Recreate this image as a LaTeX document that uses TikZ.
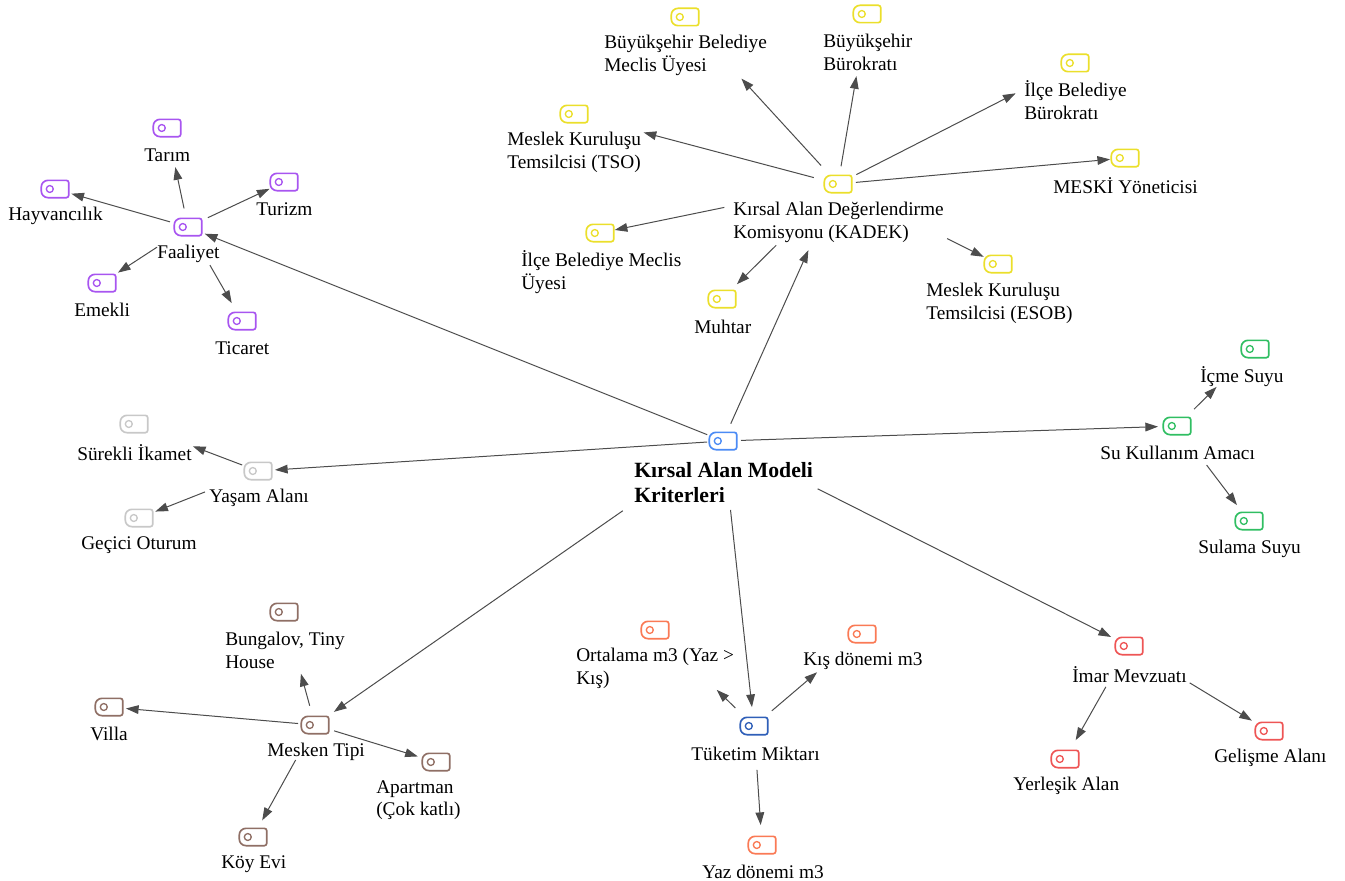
\documentclass[tikz,border=0pt]{standalone}
\usepackage{fontspec}
\setmainfont{Liberation Serif}
\usepackage{tikz}
\usetikzlibrary{positioning, arrows.meta}
\definecolor{hubBlue}{HTML}{4B8BF5}
\definecolor{deepBlue}{HTML}{2F5FB8}
\definecolor{tagYellow}{HTML}{EBDF2B}
\definecolor{tagPurple}{HTML}{A855F0}
\definecolor{tagGray}{HTML}{C8C8C8}
\definecolor{tagBrown}{HTML}{8F6F65}
\definecolor{tagOrange}{HTML}{FA7A55}
\definecolor{tagRed}{HTML}{EE5555}
\definecolor{tagGreen}{HTML}{30BE62}

\begin{document}
\begin{tikzpicture}
[x=0.75pt, y=-0.75pt,
tagicon/.style={rectangle, minimum width=20.2pt, minimum height=12.6pt, inner sep=0pt,
append after command={\pgfextra{
\draw[draw=#1, line width=1.25pt, rounded corners=1.8pt] (\tikzlastnode.north) -- (\tikzlastnode.north east) -- (\tikzlastnode.south east) [rounded corners=5pt] -- (\tikzlastnode.south west) -- (\tikzlastnode.north west) -- cycle;
\draw[draw=#1, line width=1pt] ([xshift=-3.9pt]\tikzlastnode.center) circle (2.6pt);
}}},
lbl/.style={anchor=west, align=left, inner sep=0pt, yshift=-1pt, font=\fontsize{14.5}{16.9}\selectfont},
hublbl/.style={lbl, font=\fontsize{16.3}{19}\selectfont\bfseries},
link/.style={draw=black!70, line width=0.75pt, -{Triangle[length=9.5pt,width=6.5pt]}},
gap/.style 2 args={shorten <=#1*0.75pt, shorten >=#2*0.75pt},
]
    \useasboundingbox (0,0) rectangle (1345,881);

    % centre
    \node (kriter) [tagicon=hubBlue] at (723,441) {};
    \node (kriterText) [hublbl] at (634,481) {Kırsal Alan Modeli\\Kriterleri};

    % KADEK
    \node (kadek) [tagicon=tagYellow] at (838,184) {};
    \node (kadekText) [lbl] at (733,221) {Kırsal Alan Değerlendirme\\Komisyonu (KADEK)};
    \node (bbMeclis) [tagicon=tagYellow] at (685,17) {};
    \node (bbMeclisText) [lbl] at (604,54) {Büyükşehir Belediye\\Meclis Üyesi};
    \node (bbBurokrat) [tagicon=tagYellow] at (867,14) {};
    \node (bbBurokratText) [lbl] at (823,51) {Büyükşehir\\Bürokratı};
    \node (ilceBurokrat) [tagicon=tagYellow] at (1075,63) {};
    \node (ilceBurokratText) [lbl] at (1024,99) {İlçe Belediye\\Bürokratı};
    \node (meski) [tagicon=tagYellow] at (1125,158) {};
    \node (meskiText) [lbl] at (1053,184) {MESKİ Yöneticisi};
    \node (esob) [tagicon=tagYellow] at (998,264) {};
    \node (esobText) [lbl] at (926,302) {Meslek Kuruluşu\\Temsilcisi (ESOB)};
    \node (muhtar) [tagicon=tagYellow] at (722,299) {};
    \node (muhtarText) [lbl] at (694,326) {Muhtar};
    \node (ilceMeclis) [tagicon=tagYellow] at (600,233) {};
    \node (ilceMeclisText) [lbl] at (521,271) {İlçe Belediye Meclis\\Üyesi};
    \node (tso) [tagicon=tagYellow] at (574,114) {};
    \node (tsoText) [lbl] at (507,151) {Meslek Kuruluşu\\Temsilcisi (TSO)};

    % Faaliyet
    \node (faaliyet) [tagicon=tagPurple] at (188,227) {};
    \node (faaliyetText) [lbl] at (157,253) {Faaliyet};
    \node (tarim) [tagicon=tagPurple] at (167,128) {};
    \node (tarimText) [lbl] at (144,154) {Tarım};
    \node (hayvan) [tagicon=tagPurple] at (55,189) {};
    \node (hayvanText) [lbl] at (8,215) {Hayvancılık};
    \node (turizm) [tagicon=tagPurple] at (284,182) {};
    \node (turizmText) [lbl] at (256,208) {Turizm};
    \node (emekli) [tagicon=tagPurple] at (102,283) {};
    \node (emekliText) [lbl] at (74,309) {Emekli};
    \node (ticaret) [tagicon=tagPurple] at (242,321) {};
    \node (ticaretText) [lbl] at (215,347) {Ticaret};

    % Yasam Alani
    \node (yasam) [tagicon=tagGray] at (258,471) {};
    \node (yasamText) [lbl] at (209,497) {Yaşam Alanı};
    \node (surekli) [tagicon=tagGray] at (134,424) {};
    \node (surekliText) [lbl] at (77,451) {Sürekli İkamet};
    \node (gecici) [tagicon=tagGray] at (139,518) {};
    \node (geciciText) [lbl] at (81,544) {Geçici Oturum};

    % Mesken Tipi
    \node (mesken) [tagicon=tagBrown] at (315,725) {};
    \node (meskenText) [lbl] at (267,751) {Mesken Tipi};
    \node (bungalov) [tagicon=tagBrown] at (284,612) {};
    \node (bungalovText) [lbl] at (225,649) {Bungalov, Tiny\\House};
    \node (villa) [tagicon=tagBrown] at (109,707) {};
    \node (villaText) [lbl] at (90,733) {Villa};
    \node (apartman) [tagicon=tagBrown] at (436,762) {};
    \node (apartmanText) [lbl] at (376,799) {Apartman\\(Çok katlı)};
    \node (koy) [tagicon=tagBrown] at (253,837) {};
    \node (koyText) [lbl] at (221,863) {Köy Evi};

    % Tuketim Miktari
    \node (tuketim) [tagicon=deepBlue] at (754,726) {};
    \node (tuketimText) [lbl] at (691,753) {Tüketim Miktarı};
    \node (ortalama) [tagicon=tagOrange] at (655,630) {};
    \node (ortalamaText) [lbl] at (576,667) {Ortalama m3 (Yaz >\\Kış)};
    \node (kis) [tagicon=tagOrange] at (862,634) {};
    \node (kisText) [lbl] at (803,660) {Kış dönemi m3};
    \node (yaz) [tagicon=tagOrange] at (762,845) {};
    \node (yazText) [lbl] at (702,871) {Yaz dönemi m3};

    % Imar Mevzuati
    \node (imar) [tagicon=tagRed] at (1129,646) {};
    \node (imarText) [lbl] at (1072,673) {İmar Mevzuatı};
    \node (yerlesik) [tagicon=tagRed] at (1065,759) {};
    \node (yerlesikText) [lbl] at (1013,785) {Yerleşik Alan};
    \node (gelisme) [tagicon=tagRed] at (1269,731) {};
    \node (gelismeText) [lbl] at (1214,757) {Gelişme Alanı};

    % Su Kullanim Amaci
    \node (su) [tagicon=tagGreen] at (1177,426) {};
    \node (suText) [lbl] at (1100,452) {Su Kullanım Amacı};
    \node (icme) [tagicon=tagGreen] at (1255,349) {};
    \node (icmeText) [lbl] at (1200,375) {İçme Suyu};
    \node (sulama) [tagicon=tagGreen] at (1249,521) {};
    \node (sulamaText) [lbl] at (1198,548) {Sulama Suyu};

    \draw[link, gap={17}{18}] (kriter.center) -- (faaliyet.center);
    \draw[link, gap={19}{72.5}] (kriter.center) -- (kadek.center);
    \draw[link, gap={18}{19}] (kriter.center) -- (su.center);
    \draw[link, gap={16}{17}] (kriter.center) -- (yasam.center);
    \draw[link, gap={122}{23}] (kriter.center) -- (mesken.center);
    \draw[link, gap={69.4}{19}] (kriter.center) -- (tuketim.center);
    \draw[link, gap={106}{20}] (kriter.center) -- (imar.center);

    \draw[link, gap={25}{83.5}] (kadek.center) -- (bbMeclis.center);
    \draw[link, gap={18}{63}] (kadek.center) -- (bbBurokrat.center);
    \draw[link, gap={20.6}{66.6}] (kadek.center) -- (ilceBurokrat.center);
    \draw[link, gap={18}{15}] (kadek.center) -- (meski.center);
    \draw[link, gap={122}{16}] (kadek.center) -- (esob.center);
    \draw[link, gap={87}{21}] (kadek.center) -- (muhtar.center);
    \draw[link, gap={116}{15}] (kadek.center) -- (ilceMeclis.center);
    \draw[link, gap={25}{72}] (kadek.center) -- (tso.center);

    \draw[link, gap={19}{40}] (faaliyet.center) -- (tarim.center);
    \draw[link, gap={18.7}{17}] (faaliyet.center) -- (hayvan.center);
    \draw[link, gap={22}{16}] (faaliyet.center) -- (turizm.center);
    \draw[link, gap={37}{19}] (faaliyet.center) -- (emekli.center);
    \draw[link, gap={44}{20.6}] (faaliyet.center) -- (ticaret.center);

    \draw[link, gap={17}{63}] (yasam.center) -- (surekli.center);
    \draw[link, gap={57}{17.5}] (yasam.center) -- (gecici.center);

    \draw[link, gap={20}{64}] (mesken.center) -- (bungalov.center);
    \draw[link, gap={17}{17}] (mesken.center) -- (villa.center);
    \draw[link, gap={20}{19}] (mesken.center) -- (apartman.center);
    \draw[link, gap={40}{19}] (mesken.center) -- (koy.center);

    \draw[link, gap={26}{86}] (tuketim.center) -- (ortalama.center);
    \draw[link, gap={23.4}{59}] (tuketim.center) -- (kis.center);
    \draw[link, gap={44}{20}] (tuketim.center) -- (yaz.center);

    \draw[link, gap={47}{21.6}] (imar.center) -- (yerlesik.center);
    \draw[link, gap={71}{20}] (imar.center) -- (gelisme.center);

    \draw[link, gap={24}{54}] (su.center) -- (icme.center);
    \draw[link, gap={49}{20}] (su.center) -- (sulama.center);
\end{tikzpicture}
\end{document}
